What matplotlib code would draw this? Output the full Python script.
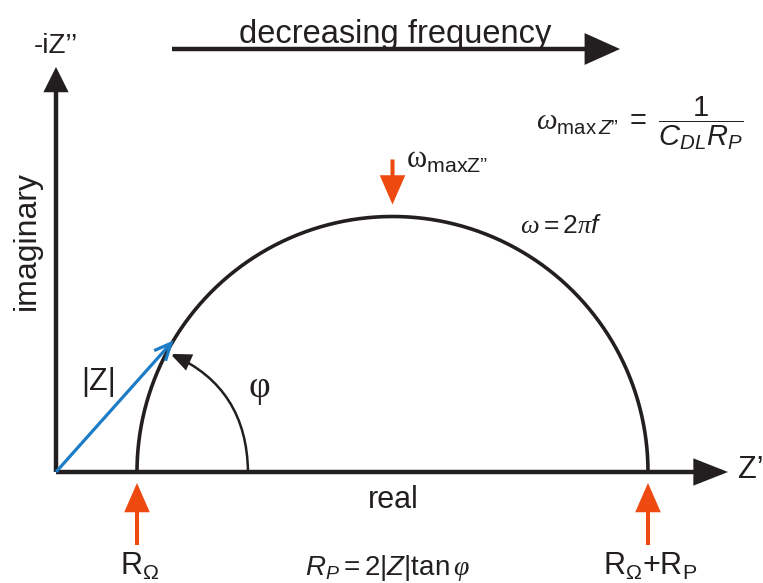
import numpy as np
import matplotlib
matplotlib.use("Agg")
import matplotlib.pyplot as plt
from matplotlib.patches import FancyArrowPatch

plt.rcParams['font.family'] = ['Liberation Sans', 'DejaVu Sans']
plt.rcParams['mathtext.fontset'] = 'custom'
plt.rcParams['mathtext.rm'] = 'Liberation Sans'
plt.rcParams['mathtext.it'] = 'Liberation Sans:italic'
plt.rcParams['mathtext.sf'] = 'Liberation Serif:italic'
plt.rcParams['mathtext.bf'] = 'Liberation Serif'

BLACK = '#231F20'
ORANGE = '#EE4A10'
BLUE = '#1C7CC6'

# Randles cell, drawing units (1 unit ~ 1 px)
R_OMEGA = 81          # solution resistance
R_P = 511             # polarisation resistance
Z_ANGLE_DEG = 149     # position of the |Z| vector on the arc
PHI_ANGLE_DEG = 152   # where the phase arc lands on the semicircle
PHI_ARC_X = 192       # where the phase arc starts on the real axis
Y_AXIS_TOP = 405
X_AXIS_END = 672
FREQ_ARROW = (116, 564, 423)   # x start, x end, y

DQ = '\u201d'   # closing double quote
SQ = '\u2019'   # closing single quote


def arrow(ax, p0, p1, color, lw, hl, hw, style='-|>', conn='arc3', z=3):
    a = FancyArrowPatch(p0, p1, arrowstyle=f'{style},head_length={hl},head_width={hw}',
                        connectionstyle=conn, color=color, lw=lw,
                        shrinkA=0, shrinkB=0, mutation_scale=1, zorder=z,
                        joinstyle='miter', capstyle='butt')
    ax.add_patch(a)


fig = plt.figure(figsize=(7.63, 5.83), dpi=100)
ax = fig.add_axes([0, 0, 1, 1])
ax.set_xlim(-56, 707)
ax.set_ylim(-111, 472)
ax.axis('off')

# axes
arrow(ax, (0, 0), (0, Y_AXIS_TOP), BLACK, 3.2, 13, 6.5)
arrow(ax, (0, 0), (X_AXIS_END, 0), BLACK, 3.2, 19, 7.5)

# semicircle
center = R_OMEGA + R_P / 2
radius = R_P / 2
theta = np.linspace(0, np.pi, 400)
ax.plot(center + radius * np.cos(theta), radius * np.sin(theta),
        color=BLACK, lw=2.6, solid_capstyle='butt', zorder=2)

# |Z| vector
zt = np.deg2rad(Z_ANGLE_DEG)
z_tip = (center + radius * np.cos(zt), radius * np.sin(zt))
arrow(ax, (0, 0), z_tip, BLUE, 2.3, 12, 5.5, style='->', z=4)

# phase angle arc
pt = np.deg2rad(PHI_ANGLE_DEG)
phi_tip = (center + 0.985 * radius * np.cos(pt), 0.985 * radius * np.sin(pt))
arrow(ax, (PHI_ARC_X, 0), phi_tip, BLACK, 1.8, 12, 5, conn='arc3,rad=0.32')

# orange markers
arrow(ax, (center, radius + 57), (center, radius + 12), ORANGE, 2.9, 16, 7)
for xv in (R_OMEGA, R_OMEGA + R_P):
    arrow(ax, (xv, -73), (xv, -11), ORANGE, 2.9, 16, 7)

# frequency direction
fx0, fx1, fy = FREQ_ARROW
arrow(ax, (fx0, fy), (fx1, fy), BLACK, 3.2, 20, 9)

# labels
ax.text(339, 429, 'decreasing frequency', fontsize=23.5, ha='center', va='baseline', color=BLACK)
ax.text(0, 419, '-iZ' + SQ + SQ, fontsize=20, ha='center', va='baseline', color=BLACK)
ax.text(-29, 232, 'imaginary', fontsize=23, rotation=90, ha='center', va='center', color=BLACK)
ax.text(337, -36, 'real', fontsize=22, ha='center', va='baseline', color=BLACK)
ax.text(682, 2, 'Z' + SQ, fontsize=22, ha='left', va='center', color=BLACK)
ax.text(43, 90, '|Z|', fontsize=22, ha='center', va='center', color=BLACK)
ax.text(203, 84, '\u03c6', fontsize=27, ha='center', va='center', color=BLACK,
        family='Liberation Serif')
ax.text(350, 304, r'$\mathbf{\omega}_{\mathrm{maxZ' + DQ + '}}$', fontsize=22,
        ha='left', va='baseline', color=BLACK)
ax.text(464, 239, r'$\mathsf{\omega} = \mathrm{2}\mathsf{\pi}f$', fontsize=19,
        ha='left', va='baseline', color=BLACK)
ax.text(584, 349, r'$\mathsf{\omega}_{\mathrm{max}\,Z' + DQ + r'}\;=\;\dfrac{\mathrm{1}}{C_{DL}R_P}$',
        fontsize=21, ha='center', va='center', color=BLACK)
ax.text(84, -103, r'$\mathrm{R}_{\mathrm{\Omega}}$', fontsize=22, ha='center', va='baseline', color=BLACK)
ax.text(594, -103, r'$\mathrm{R}_{\mathrm{\Omega}}\mathrm{+R}_{\mathrm{P}}$', fontsize=22,
        ha='center', va='baseline', color=BLACK)
ax.text(332, -103, r'$R_P = \mathrm{2}|Z|\mathrm{tan}\,\mathsf{\varphi}$', fontsize=20,
        ha='center', va='baseline', color=BLACK)

fig.savefig('out.png', dpi=100)
